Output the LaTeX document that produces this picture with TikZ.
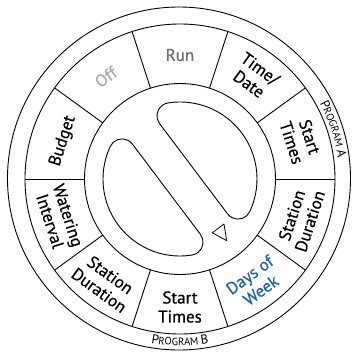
\documentclass[tikz,border=0pt]{standalone}
\usepackage{fontspec}
\setmainfont{PT Sans}
\usetikzlibrary{decorations.text}

\definecolor{dialgrey}{HTML}{6D6E71}
\definecolor{dialpale}{HTML}{A7A9AC}
\definecolor{dialblue}{HTML}{1F64A0}
\newcommand\progbig{\fontsize{13}{13}\selectfont}
\newcommand\progsmall{\fontsize{10.5}{11}\selectfont}

\begin{document}
\begin{tikzpicture}[x=1pt, y=1pt, line width=0.9pt]
        \tikzset{
            seclabel/.style={align=center, inner sep=0pt, font=\fontsize{17}{19}\selectfont\addfontfeature{FakeBold=0.6}},
            progtext/.style={decorate, decoration={text along path, text align=center, text={#1}}},
            lobe/.style={line width=0.9pt, line join=round}
        }
        \useasboundingbox (-180,-175) rectangle (173,179);

        % Rings of the dial
        \draw (-1,0.5) circle[radius=171.5pt];
        \draw (0,0) circle[radius=155pt];
        \draw (0,0) circle[radius=95.5pt];

        % Sector dividers
        \foreach \a in {0,36,...,324}
            \draw (\a:95.5) -- (\a:155);

        % Sector labels (upper half faces out, lower half faces in)
        \node[seclabel, text=dialgrey] (run) at (90:124) {Run};
        \node[seclabel, rotate=-36] (timedate) at (54:127) {Time/\\Date};
        \node[seclabel, rotate=-72] (starta) at (18:127) {Start\\Times};
        \node[seclabel, rotate=72] (dura) at (-18:127) {Station\\Duration};
        \node[seclabel, text=dialblue, rotate=36] (days) at (-54:128) {Days of\\Week};
        \node[seclabel] (startb) at (-90:128) {Start\\Times};
        \node[seclabel, rotate=-36] (durb) at (-126:128) {Station\\Duration};
        \node[seclabel, rotate=-72] (interval) at (-162:127) {Watering\\Interval};
        \node[seclabel, rotate=72] (budget) at (162:123) {Budget};
        \node[seclabel, text=dialpale, rotate=36] (off) at (126:126) {Off};

        % Program names in the outer ring
        \path[progtext={|\progbig|P|\progsmall|ROGRAM |\progbig|A}] (40:159) arc[start angle=40, end angle=-4, radius=159pt];
        \path[progtext={|\progbig|P|\progsmall|ROGRAM |\progbig|B}] (-112:166.5) arc[start angle=-112, end angle=-68, radius=166.5pt];

        % Knob: two lobes either side of the grip
        \foreach \turn in {37,217}
            \draw[lobe] (\turn-73.26:59.03) -- (\turn+73.26:59.03)
                arc[start angle=\turn+180, end angle=\turn+62.05, radius=13pt]
                arc[start angle=\turn+62.05, end angle=\turn-62.05, radius=77pt]
                arc[start angle=\turn-62.05, end angle=\turn-180, radius=13pt] -- cycle;

        % Pointer
        \draw[line width=0.8pt, line join=round] (32.3,-53.7) -- (44,-45) -- (46.7,-61.7) -- cycle;
    \end{tikzpicture}
\end{document}
